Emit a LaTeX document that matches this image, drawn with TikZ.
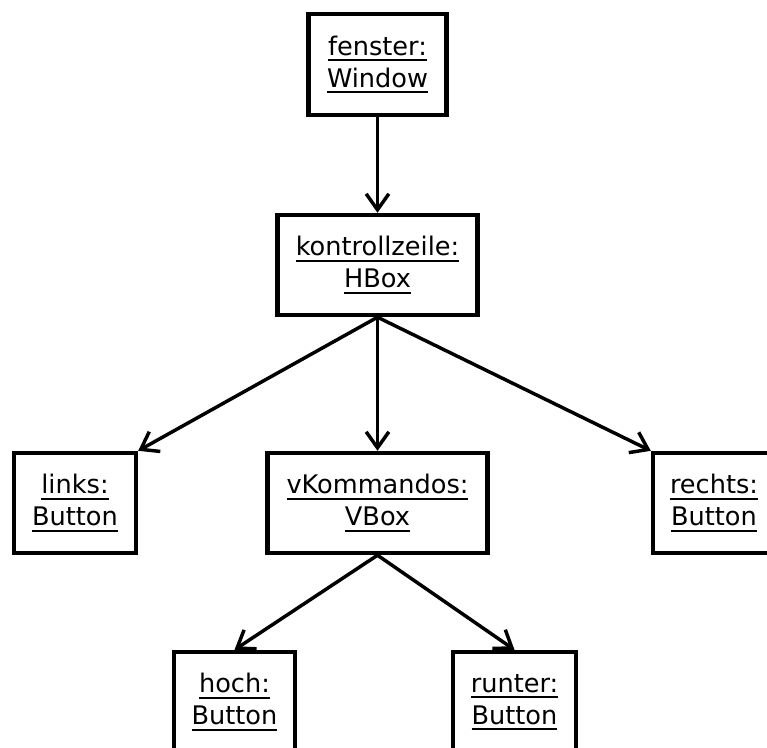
\documentclass[tikz,border=0pt]{standalone}
\usepackage{fontspec}
\setmainfont{DejaVu Sans}
\usetikzlibrary{arrows.meta}
\newcommand\ulbox[1]{\setbox0\hbox{#1}\rlap{\rule[-4.5pt]{\wd0}{1.6pt}}\box0}
\tikzset{
  obj/.style={draw=black, line width=3.3pt, fill=white, align=center, inner sep=0pt,
    font=\fontsize{19.2}{24}\selectfont, minimum height=75pt},
  link/.style={line width=2.6pt, -{Straight Barb[length=12pt,width=17pt,line width=2.6pt]}}
}
\begin{document}
\begin{tikzpicture}[x=0.75pt,y=-0.75pt]
\useasboundingbox (0,0) rectangle (767,747);
\clip (0,0) rectangle (767,747);
\node[obj, minimum width=103.5pt, minimum height=75.75pt] (fenster) at (377.5,64.5) {\ulbox{fenster:}\\\ulbox{Window}};
\node[obj, minimum width=150pt] (kontroll) at (377.5,265) {\ulbox{kontrollzeile:}\\\ulbox{HBox}};
\node[obj, minimum width=91.5pt] (links) at (75,503) {\ulbox{links:}\\\ulbox{Button}};
\node[obj, minimum width=165pt] (vkom) at (377.5,503) {\ulbox{vKommandos:}\\\ulbox{VBox}};
\node[obj, minimum width=91.5pt] (rechts) at (714,503) {\ulbox{rechts:}\\\ulbox{Button}};
\node[obj, minimum width=91pt] (hoch) at (234.5,702) {\ulbox{hoch:}\\\ulbox{Button}};
\node[obj, minimum width=92pt] (runter) at (514.5,702) {\ulbox{runter:}\\\ulbox{Button}};
\draw[link] (fenster.south) -- (kontroll.north);
\draw[link] (kontroll.south) -- (links.north east);
\draw[link] (kontroll.south) -- (vkom.north);
\draw[link] (kontroll.south) -- (rechts.north west);
\draw[link] (vkom.south) -- (hoch.north);
\draw[link] (vkom.south) -- (runter.north);
\end{tikzpicture}
\end{document}
